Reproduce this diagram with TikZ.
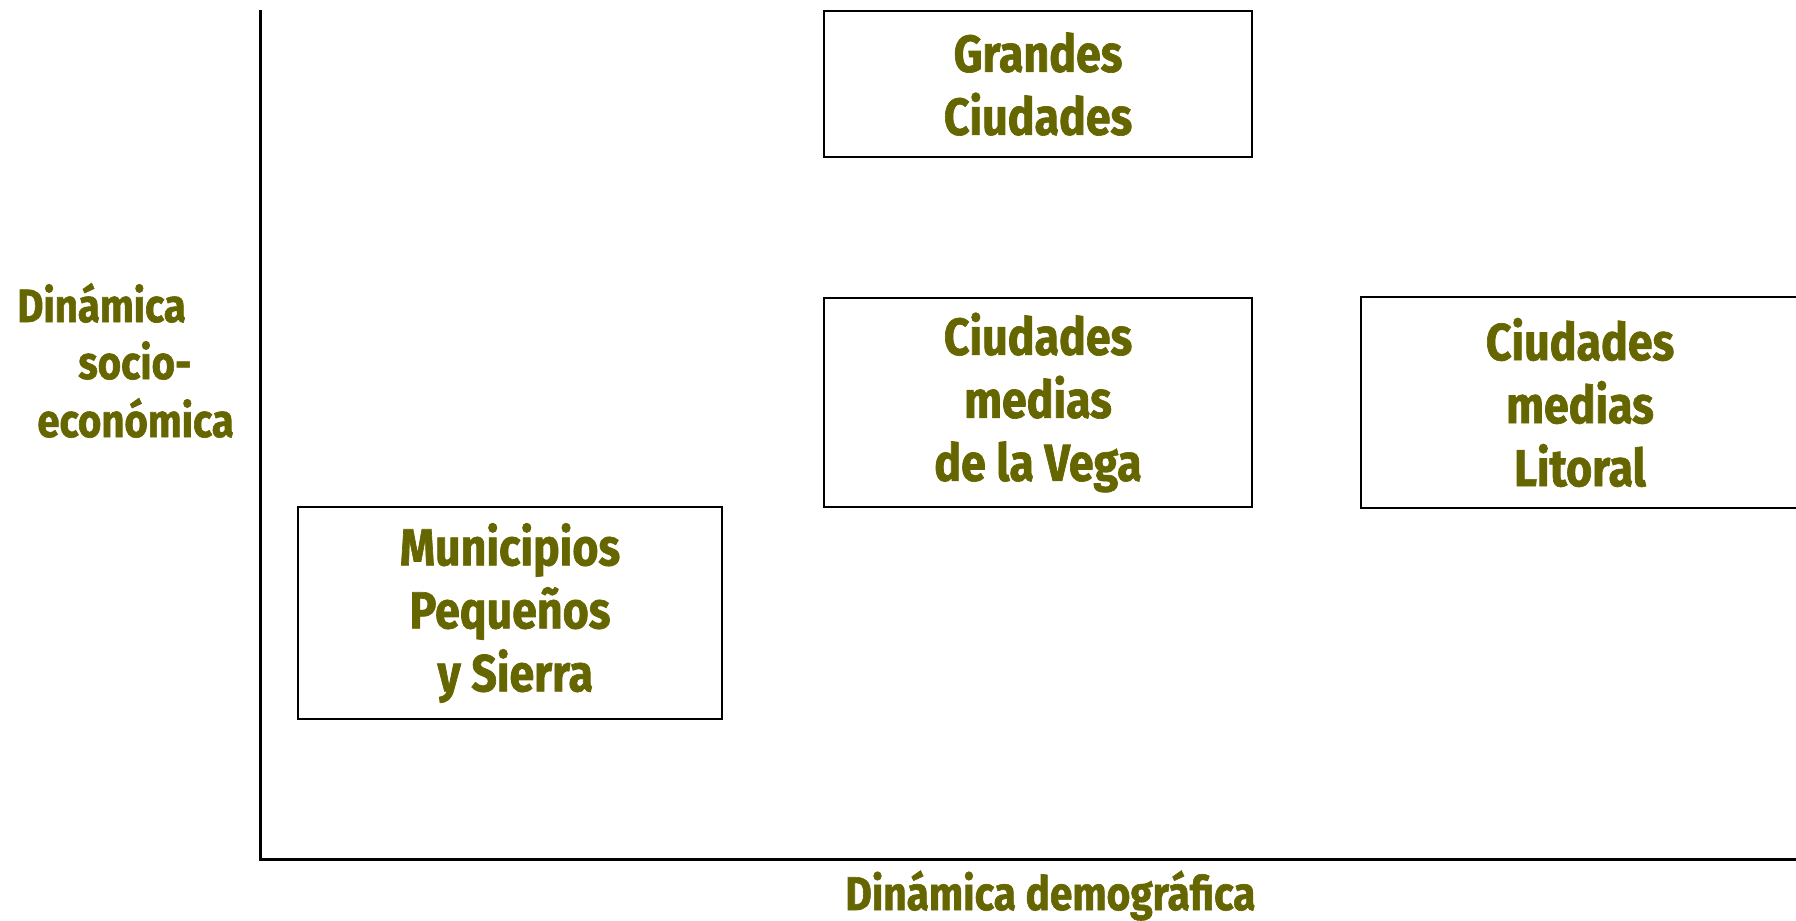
\documentclass[tikz,border=0pt]{standalone}
\usepackage{fontspec}
\newfontfamily\cfont[FakeStretch=0.86, BoldFeatures={FakeBold=1.3}]{Fira Sans}
\definecolor{olive}{HTML}{666600}
\tikzset{
  axisline/.style={line width=1.5pt, black},
  catbox/.style={draw=black, line width=1.2pt, align=center, text=olive,
    font=\cfont\bfseries\fontsize{26}{31.5}\selectfont, inner sep=0pt},
  axislabel/.style={text=olive, font=\cfont\bfseries\fontsize{23.3}{28.5}\selectfont, inner sep=0pt},
  bottomlabel/.style={text=olive, font=\cfont\bfseries\fontsize{23.6}{28}\selectfont, inner sep=0pt}
}
\begin{document}
\begin{tikzpicture}[x=0.5pt,y=-0.5pt]
\useasboundingbox (0,0) rectangle (1796,921);
\fill[white] (0,0) rectangle (1796,921);
% axes
\coordinate (top) at (260,10);
\coordinate (origin) at (260,859);
\coordinate (right) at (1796,859);
\draw[axisline] (top) -- (origin) -- (right);
% boxes
\node[catbox, minimum width=214pt, minimum height=73pt] (grandes) at (1038,84) {Grandes\\Ciudades};
\node[catbox, minimum width=214pt, minimum height=104.5pt] (vega) at (1038,402.5) {Ciudades\\medias\\de la Vega};
\node[catbox, minimum width=219pt, minimum height=105.5pt] (litoral) at (1580,402.5) {Ciudades\\medias\\Litoral};
\node[catbox, minimum width=212pt, minimum height=106pt] (munic) at (510,613) {Municipios\\Pequeños\\\ y Sierra};
% axis labels
\node[axislabel, anchor=base west] (lblA) at (17,322) {Dinámica};
\node[axislabel, anchor=base west] (lblB) at (78,379) {socio-};
\node[axislabel, anchor=base west] (lblC) at (37,437) {económica};
\node[bottomlabel, anchor=base west] (lblX) at (845,910) {Dinámica demográfica};
\end{tikzpicture}
\end{document}
